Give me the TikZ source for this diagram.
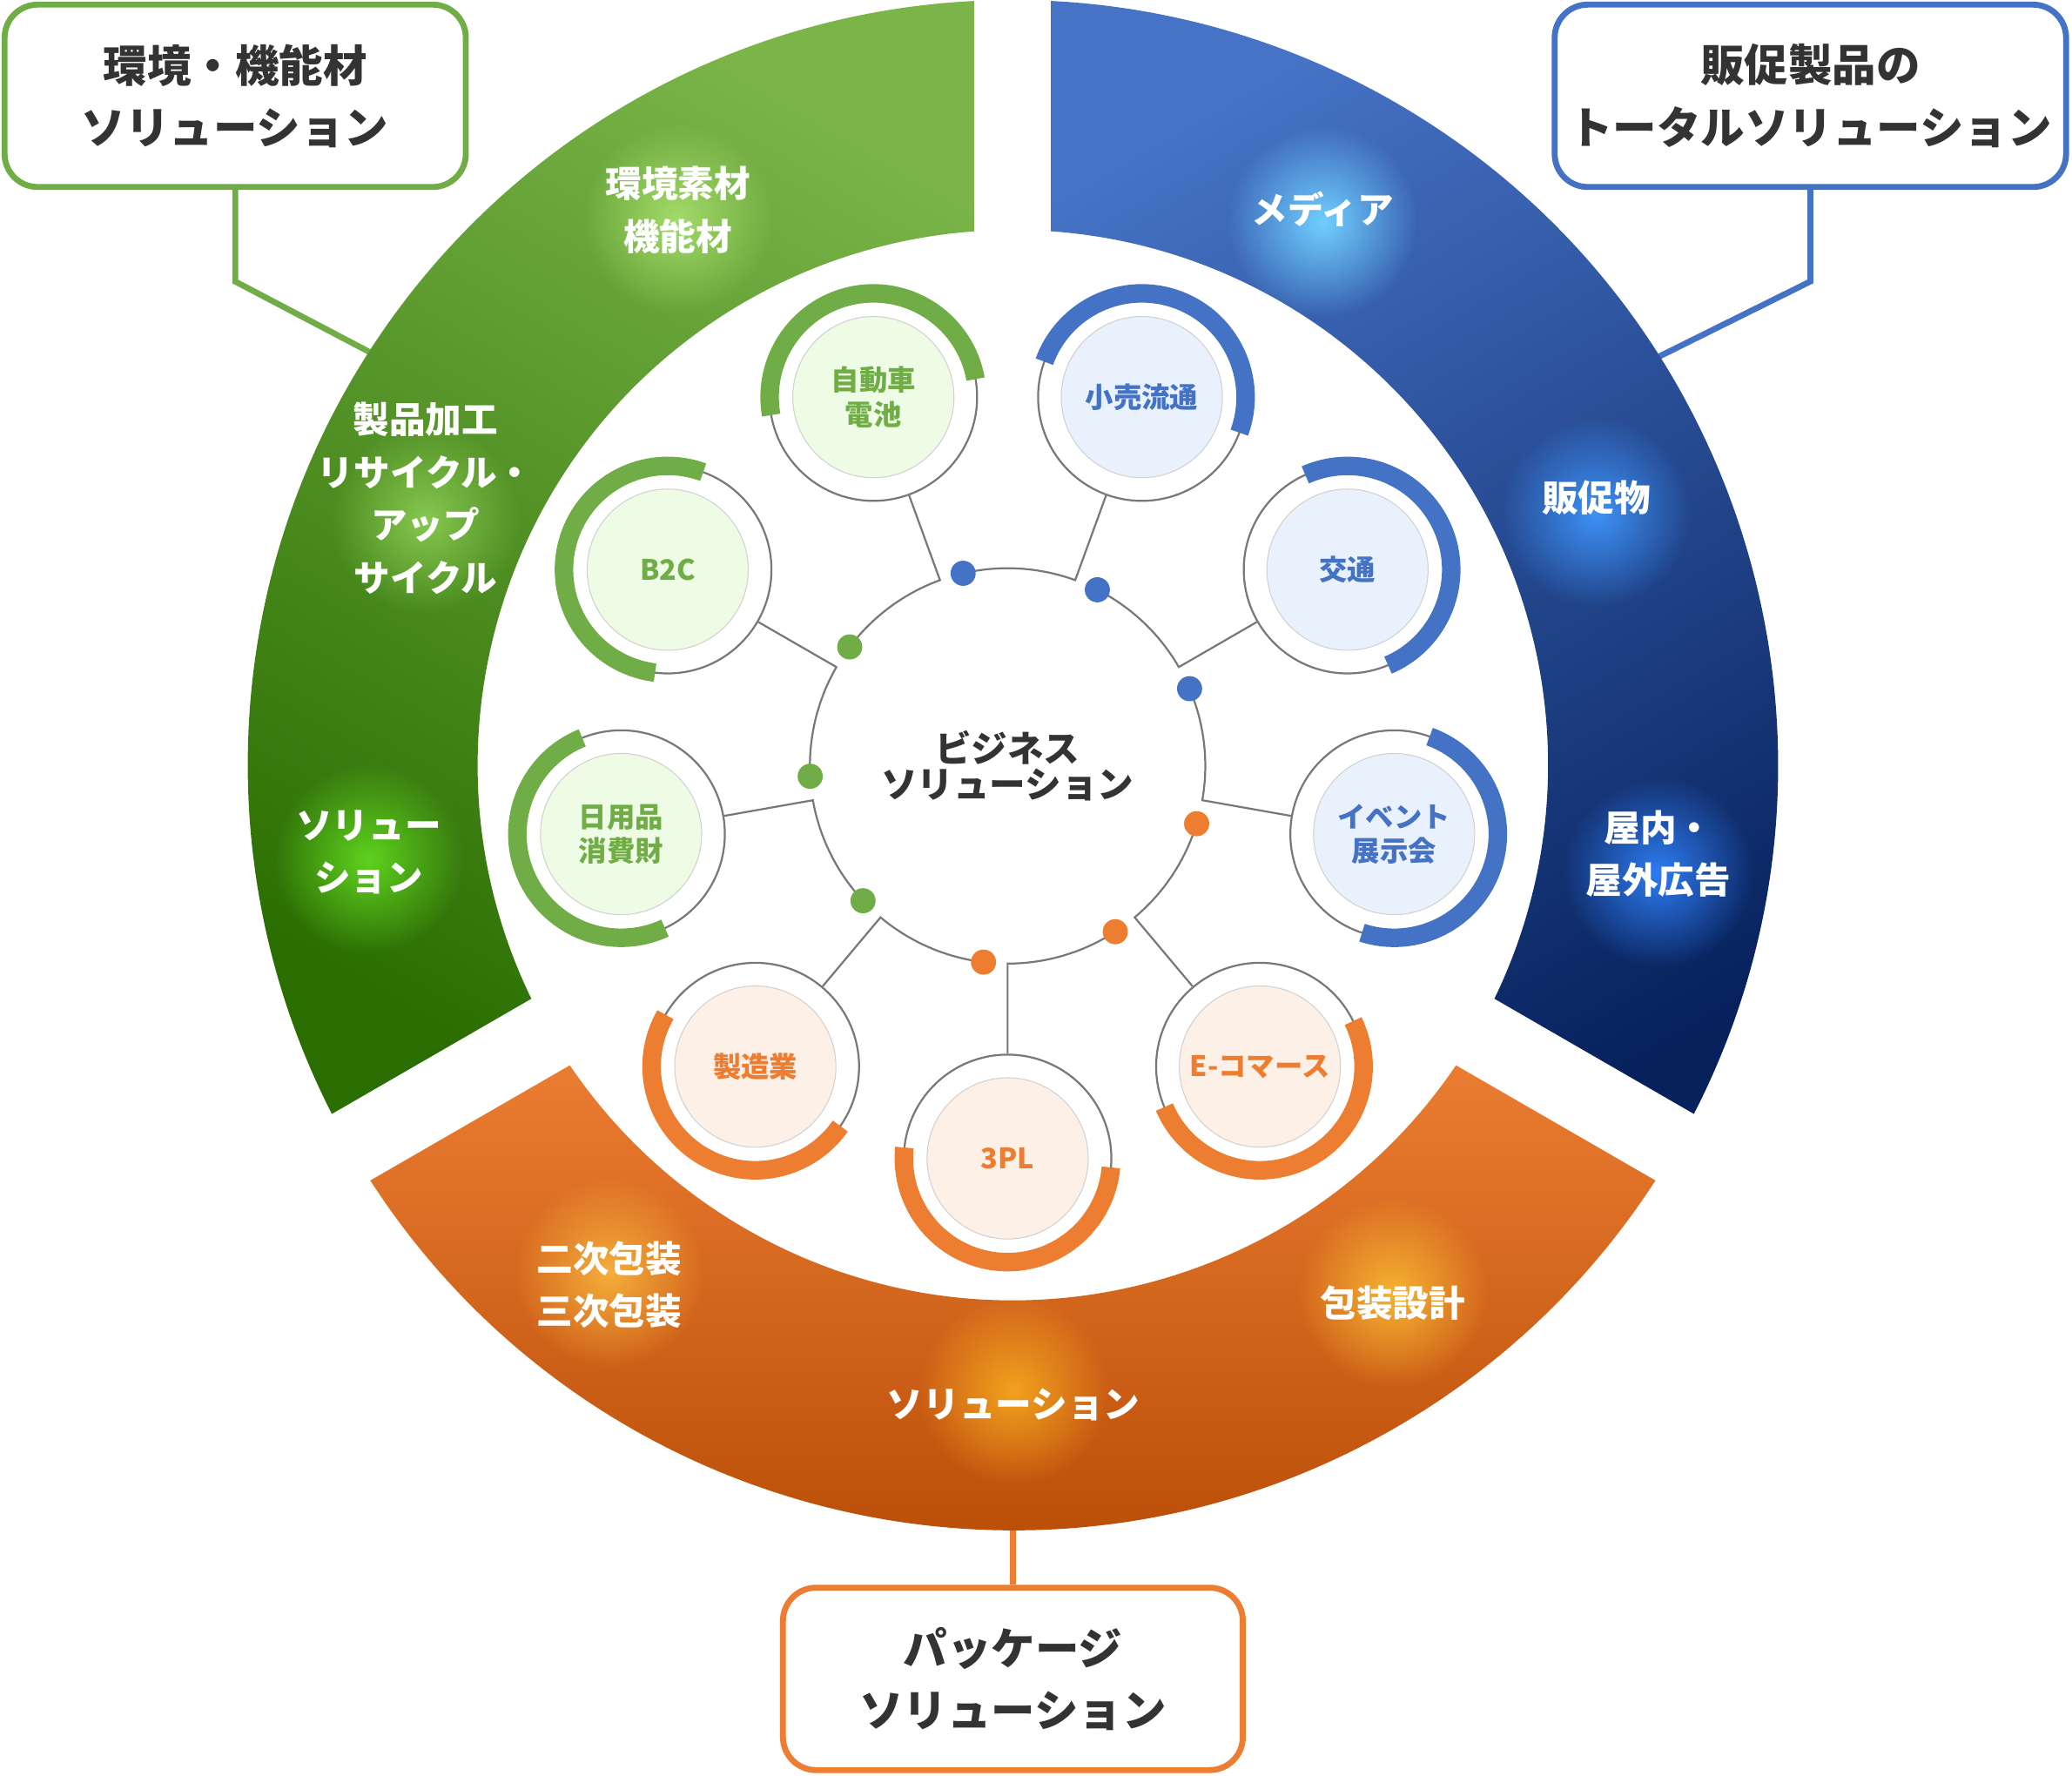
\documentclass[tikz,border=0pt]{standalone}
\usepackage{fontspec}
\setmainfont{Noto Sans CJK JP}
\usetikzlibrary{calc,fadings}

\definecolor{cG}{HTML}{70AD47}
\definecolor{cB}{HTML}{4472C4}
\definecolor{cO}{HTML}{ED7D31}
\definecolor{tG}{HTML}{EEFBE5}
\definecolor{tB}{HTML}{E9F1FD}
\definecolor{tO}{HTML}{FDF0E7}
\definecolor{ink}{HTML}{333333}
\definecolor{cLine}{HTML}{787878}
\definecolor{gTop}{HTML}{7BB54A}
\definecolor{gBot}{HTML}{2A6E02}
\definecolor{bTop}{HTML}{4673C6}
\definecolor{bBot}{HTML}{06215C}
\definecolor{oTop}{HTML}{EE8034}
\definecolor{oBot}{HTML}{B04500}

\tikzfading[name=glowfade, inner color=transparent!0, outer color=transparent!100]

\tikzset{
  callout/.style={draw, line width=0.0675cm, rounded corners=0.375cm, fill=white,
    minimum height=2.07cm, inner xsep=2pt, align=center, text=ink,
    font=\bfseries\fontsize{14.2}{20}\selectfont},
  lead/.style={line width=0.0675cm},
  link/.style={draw=cLine, line width=0.022cm},
  ring/.style={circle, link, minimum size=2.355cm, inner sep=0pt},
  disc/.style={circle, draw=black!18, line width=0.3pt, minimum size=1.83cm,
    inner sep=0pt, align=center, font=\bfseries\fontsize{9.1}{11}\selectfont},
  bandtext/.style={text=white, align=center, font=\bfseries\fontsize{11.7}{17}\selectfont},
}

\begin{document}
\begin{tikzpicture}[x=0.015cm,y=0.015cm]
\useasboundingbox (0,0) rectangle (1568,-1344);
\coordinate (rc) at (766.5,-579);
\coordinate (cc) at (762.5,-579.6);

% callouts
\node[callout, draw=cG, minimum width=5.235cm] (boxG) at (178,-72.5) {環境・機能材\\ソリューション};
\node[callout, draw=cB, minimum width=5.805cm] (boxB) at (1370,-72.5) {販促製品の\\トータルソリューション};
\node[callout, draw=cO, minimum width=5.22cm] (boxO) at (766.5,-1270.5) {パッケージ\\ソリューション};
\coordinate (endG) at ($(rc)+(147.3:579)$);
\coordinate (endB) at ($(rc)+(32.3:579)$);
\coordinate (endO) at ($(rc)+(-90:575)$);
\draw[lead, cG] (boxG.south) -- (boxG.south |- 0,-213) -- (endG);
\draw[lead, cB] (boxB.south) -- (boxB.south |- 0,-213) -- (endB);
\draw[lead, cO] (endO) -- (boxO.north);

% the three bands
\shade[top color=gTop, bottom color=gBot, shading angle=-30]
  ($(rc)+(90:579)$) arc[start angle=90, end angle=210, radius=579]
  -- ($(rc)+(210:405)$) arc[start angle=210, end angle=90, radius=405] -- cycle;
\shade[top color=bTop, bottom color=bBot, shading angle=30]
  ($(rc)+(-30:579)$) arc[start angle=-30, end angle=90, radius=579]
  -- ($(rc)+(90:405)$) arc[start angle=90, end angle=-30, radius=405] -- cycle;
\shade[top color=oTop, bottom color=oBot]
  ($(rc)+(210:579)$) arc[start angle=210, end angle=330, radius=579]
  -- ($(rc)+(330:405)$) arc[start angle=330, end angle=210, radius=405] -- cycle;
\foreach \a in {90,210,330}
  \fill[white] ($(rc)+(\a-90:29)$) -- ($(rc)+(\a+90:29)$) -- ++(\a:640) -- ++(\a-90:58) -- cycle;

% glows
\foreach \x/\y/\g in {513/-165/A3DB6A, 322/-393/86C850, 279/-650/5ED21E,
    1001/-168/70CFFF, 1208/-388/3D92F7, 1255/-660/2E7CF2,
    461/-963/F5AE3A, 1054/-978/F6B332, 767/-1052/F2A21E}
{
  \definecolor{glowcol}{HTML}{\g}
  \fill[glowcol, path fading=glowfade] (\x,\y) circle (72);
}

\node[bandtext] (lG1) at (513,-159) {環境素材\\機能材};
\node[bandtext] (lG2) at (322,-377) {製品加工\\リサイクル・\\アップ\\サイクル};
\node[bandtext] (lG3) at (279,-645) {ソリュー\\ション};
\node[bandtext] (lB1) at (1001,-158) {メディア};
\node[bandtext] (lB2) at (1208,-377) {販促物};
\node[bandtext] (lB3) at (1255,-646) {屋内・\\屋外広告};
\node[bandtext] (lO1) at (461,-972) {二次包装\\三次包装};
\node[bandtext] (lO2) at (1054,-986) {包装設計};
\node[bandtext] (lO3) at (767,-1063) {ソリューション};

% business circle and its nine fields
\foreach \n/\a/\s/\e/\c/\t/\txt in {
    car/110/10/190/cG/tG/{自動車\\電池},
    retail/70/-20/160/cB/tB/{小売流通},
    traffic/30/-67/114/cB/tB/{交通},
    event/-10/-108/70/cB/tB/{イベント\\展示会},
    ec/-50/-157/26/cO/tO/{E-コマース},
    tpl/-90/-186/-5/cO/tO/{3PL},
    maker/-130/150/325/cO/tO/{製造業},
    daily/-170/112/295/cG/tG/{日用品\\消費財},
    btoc/150/70/263/cG/tG/{B2C}}
{
  \coordinate (j-\n) at ($(cc)+(\a:149.6)$);
  \coordinate (d-\n) at ($(cc)+(\a+33:149.6)$);
  \node[ring] (r-\n) at ($(cc)+(\a:297)$) {};
  \draw[line width=0.21cm, \c] ($(r-\n.center)+(\s:78.5)$) arc[start angle=\s, end angle=\e, radius=78.5];
  \node[disc, fill=\t, text=\c] (t-\n) at (r-\n) {\txt};
  \draw[link] (d-\n) arc[start angle=\a+33, end angle=\a, radius=149.6] -- (r-\n);
  \fill[\c] (d-\n) circle (9.5);
}
\node[text=ink, align=center, font=\bfseries\fontsize{11.7}{11.5}\selectfont] (biz) at (cc) {ビジネス\\ソリューション};
\end{tikzpicture}
\end{document}
